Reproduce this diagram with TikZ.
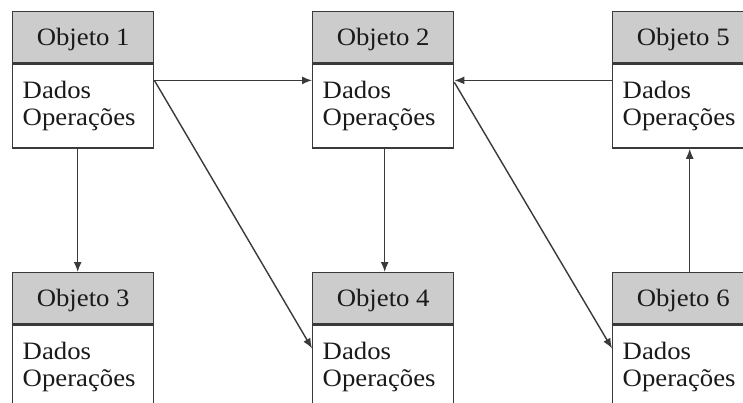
\documentclass[tikz,border=0pt]{standalone}
\usepackage{fontspec}
\setmainfont[FakeStretch=1.07]{Liberation Serif}
\usetikzlibrary{arrows.meta,calc}
\definecolor{edge}{HTML}{3A3A3A}
\definecolor{headfill}{HTML}{CCCCCC}
\definecolor{ink}{HTML}{1A1A1A}
\tikzset{
  boxline/.style={draw=edge, line width=1.4pt},
  head/.style={boxline, fill=headfill, anchor=north west, inner sep=0pt,
    minimum width=141pt, minimum height=51pt, text height=17pt, text depth=0pt,
    text=ink, font=\fontsize{25}{26.5}\selectfont},
  body/.style={boxline, fill=white, anchor=north west, inner xsep=10pt, inner ysep=0pt,
    text width=121pt, minimum height=84pt, align=left,
    text=ink, font=\fontsize{25}{26.5}\selectfont},
  link/.style={draw=edge, line width=1.4pt, -{Latex[length=10pt,width=8pt]}},
}
\begin{document}
\begin{tikzpicture}[x=1pt,y=-1pt]
\useasboundingbox (0,0) rectangle (743,403);
\clip (0,0) rectangle (743,403);
\fill[white] (0,0) rectangle (743,403);

% top row
\node[head] (o1h) at (12,11)  {Objeto 1};
\node[body] (o1b) at (o1h.south west) {Dados\\Operações};
\node[head] (o2h) at (312,11) {Objeto 2};
\node[body] (o2b) at (o2h.south west) {Dados\\Operações};
\node[head] (o5h) at (612,11) {Objeto 5};
\node[body] (o5b) at (o5h.south west) {Dados\\Operações};

% bottom row
\node[head] (o3h) at (12,272)  {Objeto 3};
\node[body] (o3b) at (o3h.south west) {Dados\\Operações};
\node[head] (o4h) at (312,272) {Objeto 4};
\node[body] (o4b) at (o4h.south west) {Dados\\Operações};
\node[head] (o6h) at (612,272) {Objeto 6};
\node[body] (o6b) at (o6h.south west) {Dados\\Operações};

% attachment points on the box sides
\coordinate (a1) at ([yshift=-17pt]o1b.north east);
\coordinate (a2) at ([yshift=-19pt]o2b.north east);
\coordinate (a5) at ([yshift=-17pt]o5b.north west);
\coordinate (a4) at ([yshift=-24pt]o4b.north west);
\coordinate (a6) at ([yshift=-24pt]o6b.north west);

% connectors
\draw[link] (a1) -- (a1 -| o2b.west);
\draw[link] (a5) -- (a5 -| o2b.east);
\draw[link] (a1) -- (a4);
\draw[link] (a2) -- (a6);
\draw[link] ([xshift=-5.5pt]o1b.south) -- ([xshift=-5.5pt]o3h.north);
\draw[link] ([xshift=1.5pt]o2b.south) -- ([xshift=1.5pt]o4h.north);
\draw[link] ([xshift=6.5pt]o6h.north) -- ([xshift=6.5pt]o5b.south);
\end{tikzpicture}
\end{document}
